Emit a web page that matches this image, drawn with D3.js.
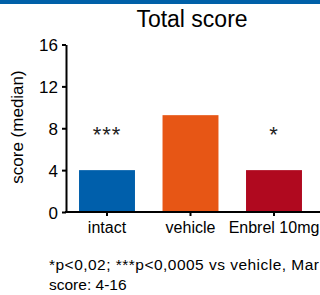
<!DOCTYPE html>
<html>
<head>
<meta charset="utf-8">
<script src="https://cdn.jsdelivr.net/npm/d3@7"></script>
<style>
  body { margin: 0; background: #fff; overflow: hidden; }
  svg { display: block; font-family: "Liberation Sans", Arial, sans-serif; }
</style>
</head>
<body>
<div id="chart"></div>
<script>
// chart data
var categories = ["intact", "vehicle", "Enbrel 10mg"];
var medians = [4, 9.25, 4];
var barColors = ["#005fab", "#e75615", "#b0091f"];
var stars = ["***", "", "*"];
var yTicks = [0, 4, 8, 12, 16];
var footnotes = ["*p<0,02; ***p<0,0005 vs vehicle, Mar", "score: 4-16"];

var W = 320, H = 295;
var svg = d3.select("#chart").append("svg")
    .attr("width", W)
    .attr("height", H);

// blue strip on top
svg.append("rect")
    .attr("x", 0).attr("y", 0)
    .attr("width", W).attr("height", 4)
    .attr("fill", "#0060a8");

// scales
var x = d3.scaleBand()
    .domain(categories)
    .range([66, 315])
    .paddingInner(0.33)
    .paddingOuter(0.156);

var y = d3.scaleLinear()
    .domain([0, 16])
    .range([212, 44.5]);

// title
svg.append("text")
    .attr("x", 192)
    .attr("y", 27)
    .attr("text-anchor", "middle")
    .style("font-size", "23px")
    .text("Total score");

// bars
svg.selectAll(".bar")
    .data(medians)
  .enter().append("rect")
    .attr("class", "bar")
    .attr("x", function(d, i) { return x(categories[i]); })
    .attr("width", x.bandwidth())
    .attr("y", function(d) { return y(d); })
    .attr("height", function(d) { return y(0) - y(d); })
    .attr("fill", function(d, i) { return barColors[i]; });

// significance stars
svg.selectAll(".star")
    .data(stars)
  .enter().append("text")
    .attr("class", "star")
    .attr("x", function(d, i) { return x(categories[i]) + x.bandwidth() / 2; })
    .attr("y", y(6.7))
    .attr("text-anchor", "middle")
    .style("font-size", "22px")
    .style("letter-spacing", "1px")
    .attr("fill", "#222")
    .text(function(d) { return d; });

// y axis
var yAxis = svg.append("g")
    .attr("transform", "translate(66,0)")
    .call(d3.axisLeft(y).tickValues(yTicks).tickSize(4).tickSizeOuter(0).tickPadding(4));
yAxis.selectAll("text").style("font-size", "17px").attr("fill", "#000").attr("dy", "0.36em");
yAxis.selectAll("line, path").attr("stroke", "#000").attr("stroke-width", 2);

// x axis
var xAxis = svg.append("g")
    .attr("transform", "translate(0," + y(0) + ")")
    .call(d3.axisBottom(x).tickSize(4).tickSizeOuter(0).tickPadding(6));
xAxis.select(".domain").attr("d", "M65,0H" + W);
xAxis.selectAll("text").style("font-size", "16px").attr("fill", "#000");
xAxis.selectAll("line, path").attr("stroke", "#000").attr("stroke-width", 2);

// y label
svg.append("text")
    .attr("transform", "translate(22.5,127) rotate(-90)")
    .attr("text-anchor", "middle")
    .style("font-size", "17px")
    .text("score (median)");

// footnotes
svg.selectAll(".note")
    .data(footnotes)
  .enter().append("text")
    .attr("class", "note")
    .attr("x", 49)
    .attr("y", function(d, i) { return 270 + i * 20; })
    .style("font-size", "15.5px")
    .attr("textLength", function(d, i) { return i === 0 ? 270 : null; })
    .attr("lengthAdjust", "spacing")
    .text(function(d) { return d; });
</script>
</body>
</html>
